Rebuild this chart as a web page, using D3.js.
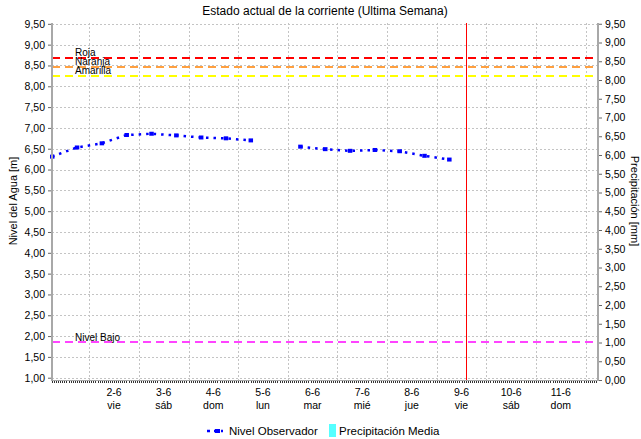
<!DOCTYPE html>
<html><head><meta charset="utf-8">
<script src="https://cdn.jsdelivr.net/npm/d3@7"></script>
<style>body{margin:0;background:#fff}svg{display:block}text{font-family:"Liberation Sans",Arial,sans-serif;fill:#000}</style>
</head><body><svg id="c" width="641" height="439"></svg>
<script>
// ---- data ----
const obsTimes = ["2023-06-01T06:00","2023-06-01T18:00","2023-06-02T06:00","2023-06-02T18:00","2023-06-03T06:00","2023-06-03T18:00","2023-06-04T06:00","2023-06-04T18:00","2023-06-05T06:00","2023-06-05T18:00","2023-06-06T06:00","2023-06-06T18:00","2023-06-07T06:00","2023-06-07T18:00","2023-06-08T06:00","2023-06-08T18:00","2023-06-09T06:00"];
const obsValues = [6.31,6.53,6.63,6.83,6.86,6.82,6.77,6.75,6.70,null,6.55,6.49,6.45,6.47,6.44,6.33,6.24];
const thresholdNames = ["Roja","Naranja","Amarilla","Nivel Bajo"];
const thresholdValues = [8.68,8.46,8.25,1.85];
const thresholdColors = ["#ff0000","#ffa040","#ffff00","#ff44ff"];
const nowTime = "2023-06-09T14:00";
const dayLabels = ["2-6","3-6","4-6","5-6","6-6","7-6","8-6","9-6","10-6","11-6"];
const weekdayLabels = ["vie","sáb","dom","lun","mar","mié","jue","vie","sáb","dom"];
const labelTimes = ["2023-06-02T12:00","2023-06-03T12:00","2023-06-04T12:00","2023-06-05T12:00","2023-06-06T12:00","2023-06-07T12:00","2023-06-08T12:00","2023-06-09T12:00","2023-06-10T12:00","2023-06-11T12:00"];
const gridTimes = ["2023-06-02T00:00","2023-06-03T00:00","2023-06-04T00:00","2023-06-05T00:00","2023-06-06T00:00","2023-06-07T00:00","2023-06-08T00:00","2023-06-09T00:00","2023-06-10T00:00","2023-06-11T00:00","2023-06-12T00:00"];
const leftTicks = [1.0,1.5,2.0,2.5,3.0,3.5,4.0,4.5,5.0,5.5,6.0,6.5,7.0,7.5,8.0,8.5,9.0,9.5];
const rightTicks = [0.0,0.5,1.0,1.5,2.0,2.5,3.0,3.5,4.0,4.5,5.0,5.5,6.0,6.5,7.0,7.5,8.0,8.5,9.0,9.5];
const xStart = "2023-06-01T06:00", xEnd = "2023-06-12T06:00";

// ---- layout ----
const parse = d3.utcParse("%Y-%m-%dT%H:%M");
const L = 52, R = 598, T = 23, B = 380;
const svg = d3.select("#c");
const x = d3.scaleUtc().domain([parse(xStart), parse(xEnd)]).range([L, R]);
const yL = d3.scaleLinear().domain([0.945, 9.52]).range([B, T]);
const yR = d3.scaleLinear().domain([0, 9.52]).range([B, T]);
const fmt = v => d3.format(".2f")(v).replace(".", ",");

// title
svg.append("text").attr("x", 325).attr("y", 15).attr("text-anchor","middle")
  .style("font-size","12px").text("Estado actual de la corriente (Ultima Semana)");

// grid
const g = svg.append("g");
g.selectAll("line.h").data(leftTicks).join("line")
  .attr("x1", L).attr("x2", R).attr("y1", d => Math.round(yL(d))+0.5).attr("y2", d => Math.round(yL(d))+0.5)
  .attr("stroke","#c4c4c4").attr("stroke-dasharray","2,2");
g.selectAll("line.v").data(gridTimes).join("line")
  .attr("x1", d => Math.round(x(parse(d)))+0.5).attr("x2", d => Math.round(x(parse(d)))+0.5)
  .attr("y1", T).attr("y2", B).attr("stroke","#c4c4c4").attr("stroke-dasharray","2,2");

// thresholds
thresholdValues.forEach((v,i) => {
  const yy = Math.round(yL(v));
  svg.append("line").attr("x1", L).attr("x2", R).attr("y1", yy).attr("y2", yy)
    .attr("stroke", thresholdColors[i]).attr("stroke-width", 2).attr("stroke-dasharray","8,5");
  svg.append("text").attr("x", 75).attr("y", yy - (i===3 ? 1 : 2.5))
    .style("font-size","10px").text(thresholdNames[i]);
});

// now line
const nx = Math.round(x(parse(nowTime))) + 0.5;
svg.append("line").attr("x1", nx).attr("x2", nx)
  .attr("y1", T).attr("y2", B).attr("stroke","#ff0000").attr("stroke-width",1);

// observed line
const pts = obsTimes.map((t,i) => ({t: parse(t), v: obsValues[i]}));
const line = d3.line().defined(d => d.v !== null).x(d => x(d.t)).y(d => yL(d.v));
svg.append("path").datum(pts).attr("d", line).attr("fill","none")
  .attr("stroke","#0000ff").attr("stroke-width",2.5).attr("stroke-dasharray","2.5,5");
svg.selectAll("rect.m").data(pts.filter(d => d.v !== null)).join("rect")
  .attr("x", d => x(d.t)-2).attr("y", d => yL(d.v)-2).attr("width",4.5).attr("height",4).attr("fill","#0000ff");

// axes lines
svg.append("line").attr("x1", L).attr("x2", L).attr("y1", T).attr("y2", B+1).attr("stroke","#a8a8a8").attr("stroke-width",2);
svg.append("line").attr("x1", R).attr("x2", R).attr("y1", T).attr("y2", B+1).attr("stroke","#a8a8a8").attr("stroke-width",2);
svg.append("line").attr("x1", L).attr("x2", R).attr("y1", B+0.5).attr("y2", B+0.5).attr("stroke","#a8a8a8");

// left axis
const la = svg.append("g").attr("transform",`translate(${L-1},0)`)
  .call(d3.axisLeft(yL).tickValues(leftTicks).tickFormat(fmt).tickSize(3).tickPadding(3));
la.select(".domain").remove();
la.selectAll("line").attr("stroke","#666");
la.selectAll("text").style("font-size","10.5px").style("font-family","'Liberation Sans',Arial,sans-serif").attr("fill","#000");

// right axis
const ra = svg.append("g").attr("transform",`translate(${R+1},0)`)
  .call(d3.axisRight(yR).tickValues(rightTicks).tickFormat(fmt).tickSize(3).tickPadding(3));
ra.select(".domain").remove();
ra.selectAll("line").attr("stroke","#666");
ra.selectAll("text").style("font-size","10.5px").style("font-family","'Liberation Sans',Arial,sans-serif").attr("fill","#000");

// bottom minor ticks (hourly)
const hours = d3.utcHour.range(parse(xStart), parse(xEnd));
svg.selectAll("line.hr").data(hours).join("line")
  .attr("x1", d => Math.round(x(d))+0.5).attr("x2", d => Math.round(x(d))+0.5)
  .attr("y1", B+1).attr("y2", B+3).attr("stroke","#333");

// x labels
labelTimes.forEach((t,i) => {
  const xt = svg.append("text").attr("x", x(parse(t))).attr("text-anchor","middle").style("font-size","10.5px");
  xt.append("tspan").attr("x", x(parse(t))).attr("y", 396).text(dayLabels[i]);
  xt.append("tspan").attr("x", x(parse(t))).attr("y", 409).text(weekdayLabels[i]);
});

// axis titles
svg.append("text").attr("transform","translate(17,201) rotate(-90)").attr("text-anchor","middle")
  .style("font-size","11px").text("Nivel del Agua [m]");
svg.append("text").attr("transform","translate(631,201) rotate(90)").attr("text-anchor","middle")
  .style("font-size","11px").text("Precipitación [mm]");

// legend
const lg = svg.append("g");
lg.append("line").attr("x1",207).attr("x2",223).attr("y1",431).attr("y2",431)
  .attr("stroke","#0000ff").attr("stroke-width",2.5).attr("stroke-dasharray","3,4");
lg.append("rect").attr("x",215).attr("y",429).attr("width",5).attr("height",4).attr("fill","#0000ff");
lg.append("text").attr("x",229).attr("y",435).style("font-size","11.5px").text("Nivel Observador");
lg.append("rect").attr("x",329).attr("y",424).attr("width",7).attr("height",13).attr("fill","#55ffff");
lg.append("text").attr("x",339).attr("y",435).style("font-size","11.5px").text("Precipitación Media");
</script></body></html>
